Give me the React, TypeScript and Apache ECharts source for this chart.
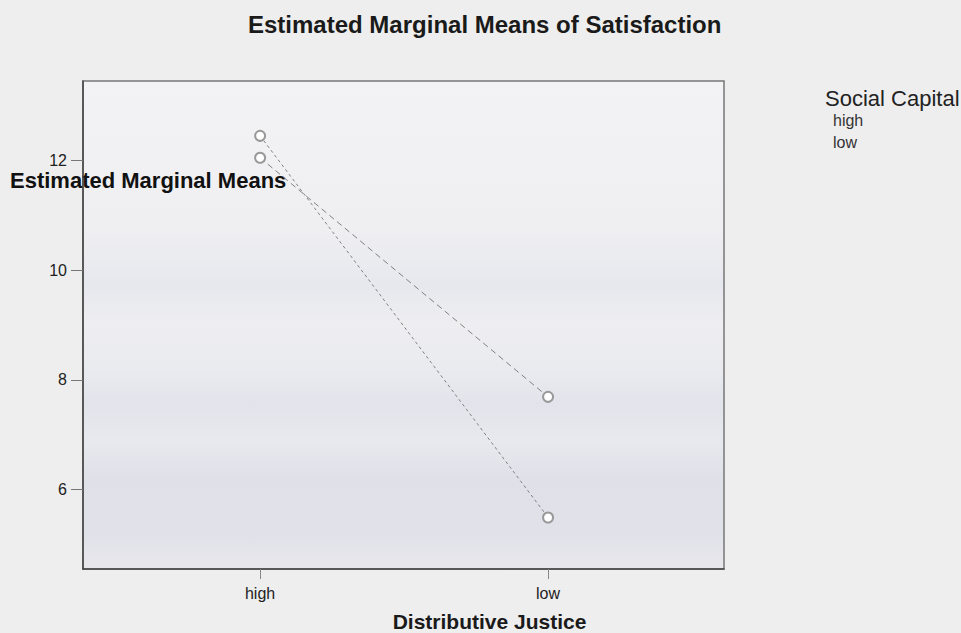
import React, { useEffect, useRef } from "react";
import * as echarts from "echarts";

const categories = ["high", "low"];
const seriesNames = ["high", "low"];
const highValues = [12.05, 7.69];
const lowValues = [12.45, 5.49];
const yTicks = [6, 8, 10, 12];

export default function App() {
  const ref = useRef<HTMLDivElement>(null);
  useEffect(() => {
    document.body.style.margin = "0";
    document.body.style.background = "#eeeeee";
    const chart = echarts.init(ref.current!, null, { renderer: "svg" });
    const font = "Liberation Sans, Arial, sans-serif";
    const mk = (vals: number[]) => vals.map((v, i) => [i, v]);
    chart.setOption({
      animation: false,
      backgroundColor: "#eeeeee",
      title: {
        text: "Estimated Marginal Means of Satisfaction",
        left: 243,
        top: 7,
        textStyle: { fontFamily: font, fontSize: 24, fontWeight: "bold", color: "#1a1a1a" },
      },
      grid: {
        left: 83,
        right: 237,
        top: 81,
        bottom: 64,
        outerBoundsMode: "none",
        containLabel: false,
        show: true,
        borderColor: "#777",
        borderWidth: 1.5,
        backgroundColor: new echarts.graphic.LinearGradient(0, 0, 0, 1, [
          { offset: 0, color: "#f3f3f5" },
          { offset: 0.3, color: "#efeff2" },
          { offset: 0.42, color: "#e7e8ee" },
          { offset: 0.5, color: "#eeeef1" },
          { offset: 0.6, color: "#e9eaef" },
          { offset: 0.66, color: "#e3e4eb" },
          { offset: 0.74, color: "#e8e9ee" },
          { offset: 0.82, color: "#dfe0e8" },
          { offset: 0.92, color: "#e0e1e9" },
          { offset: 1, color: "#e8e8ec" },
        ]),
      },
      xAxis: {
        type: "value",
        min: -0.615,
        max: 1.611,
        name: "Distributive Justice",
        nameLocation: "middle",
        nameGap: 42,
        nameTextStyle: {
          fontFamily: font,
          fontSize: 21,
          fontWeight: "bold",
          color: "#1a1a1a",
          padding: [0, 0, 0, 172],
        },
        axisLine: { show: true, onZero: false, lineStyle: { color: "#444", width: 1.5 } },
        axisTick: { show: true, length: 10, customValues: [0, 1], lineStyle: { color: "#888" } },
        axisLabel: {
          customValues: [0, 1],
          formatter: (v: number) => categories[Math.round(v)] ?? "",
          fontFamily: font,
          fontSize: 16,
          color: "#222",
          margin: 16,
        },
        splitLine: { show: false },
      },
      yAxis: {
        type: "value",
        min: 4.55,
        max: 13.45,
        axisLine: { show: true, onZero: false, lineStyle: { color: "#444", width: 1.5 } },
        axisTick: { show: true, length: 12, customValues: yTicks, lineStyle: { color: "#777" } },
        axisLabel: {
          customValues: yTicks,
          fontFamily: font,
          fontSize: 16,
          color: "#222",
          margin: 16,
        },
        splitLine: { show: false },
      },
      graphic: [
        {
          type: "text",
          left: 10,
          top: 169,
          style: { text: "Estimated Marginal Means", font: `bold 22px ${font}`, fill: "#111" },
        },
        {
          type: "text",
          left: 825,
          top: 87,
          style: { text: "Social Capital", font: `22px ${font}`, fill: "#222" },
        },
        {
          type: "text",
          left: 833,
          top: 112,
          style: { text: seriesNames[0], font: `16px ${font}`, fill: "#333" },
        },
        {
          type: "text",
          left: 833,
          top: 134,
          style: { text: seriesNames[1], font: `16px ${font}`, fill: "#333" },
        },
      ],
      series: [
        {
          name: seriesNames[0],
          type: "line",
          data: mk(highValues),
          symbol: "emptyCircle",
          symbolSize: 10,
          lineStyle: { color: "#808080", width: 1, type: [6, 4] },
          itemStyle: { color: "#999", borderWidth: 1 },
        },
        {
          name: seriesNames[1],
          type: "line",
          data: mk(lowValues),
          symbol: "emptyCircle",
          symbolSize: 10,
          lineStyle: { color: "#808080", width: 1, type: [3, 3] },
          itemStyle: { color: "#999", borderWidth: 1 },
        },
      ],
    });
    return () => chart.dispose();
  }, []);
  return <div ref={ref} style={{ width: 961, height: 633 }} />;
}
